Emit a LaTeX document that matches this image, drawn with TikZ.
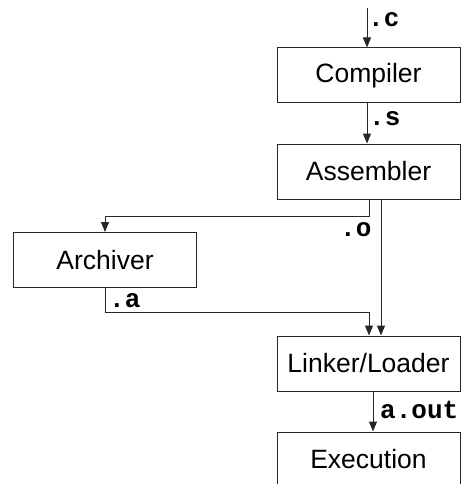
\documentclass[tikz,border=0pt]{standalone}
\usepackage{fontspec}
\setmainfont{Liberation Sans}
\setmonofont{Liberation Mono}
\usetikzlibrary{arrows.meta}
\begin{document}
\begin{tikzpicture}[x=1pt,y=-1pt,
 box/.style={draw=black!85, line width=1pt, minimum width=183pt, minimum height=55pt, inner sep=0pt, font=\fontsize{26.5}{30}\selectfont},
 lbl/.style={anchor=base west, inner sep=0pt, font=\fontsize{26}{30}\selectfont\ttfamily\bfseries},
 conn/.style={draw=black!85, line width=1pt, -{Triangle[length=10pt,width=8pt]}}]
\path[use as bounding box, clip] (0,0) rectangle (461,484);
\node[box] (comp) at (368.5,75.5) {Compiler};
\node[box] (asm) at (368.5,171.5) {Assembler};
\node[box] (arch) at (105,260) {Archiver};
\node[box] (link) at (368.5,363.5) {Linker/Loader};
\node[box] (exec) at (368.5,459.5) {Execution};
\coordinate (src) at (367,8);
\coordinate (o1) at (369,216);
\coordinate (a1) at (369,312);
\draw[conn] (src) -- (src |- comp.north);
\draw[conn] (comp.south -| src) -- (asm.north -| src);
\draw[conn] (asm.south -| o1) -- (o1) -| (arch.north);
\draw[conn] ([xshift=12.5pt]asm.south) -- ([xshift=12.5pt]link.north);
\draw[conn] (arch.south) |- (a1) -- (link.north -| a1);
\draw[conn] ([xshift=4.5pt]link.south) -- ([xshift=4.5pt]exec.north);
\node[lbl] (lc) at (368,27) {.c};
\node[lbl] (ls) at (369,125) {.s};
\node[lbl] (lo) at (340,236) {.o};
\node[lbl] (la) at (109,307) {.a};
\node[lbl] (lout) at (380,418) {a.out};
\end{tikzpicture}
\end{document}
